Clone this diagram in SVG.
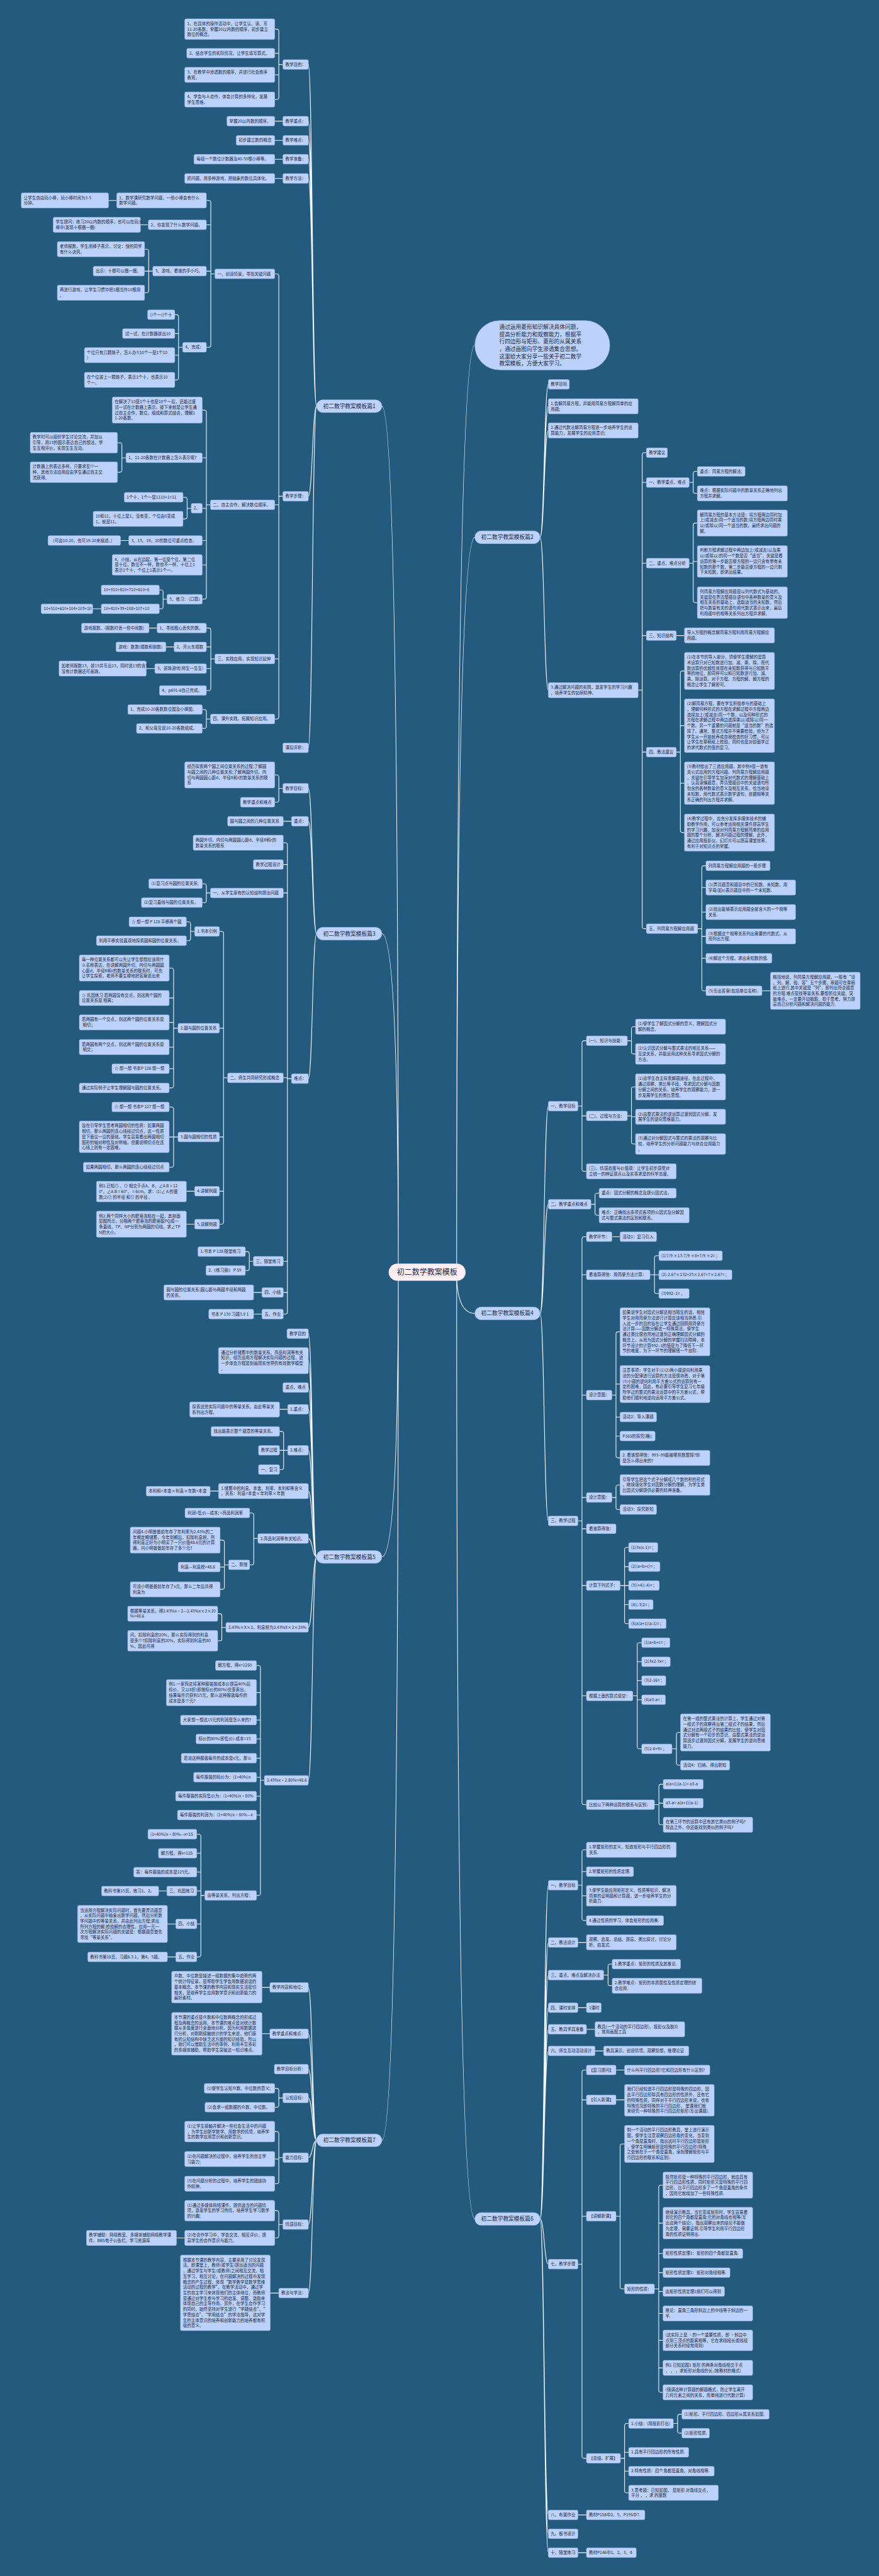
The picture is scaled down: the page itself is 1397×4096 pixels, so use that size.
<svg xmlns="http://www.w3.org/2000/svg" width="1397" height="4096" viewBox="0 0 1397 4096">
<style>
.n rect{fill:#bdd2fa;stroke:#a7bfee;stroke-width:1}
text{font-family:"Noto Sans CJK SC","Liberation Sans",sans-serif;font-size:12px;fill:#1b2845}
.p text{font-size:16px}
.ctr rect{fill:#fdeef4}
.ctr text{font-size:22px}
.c{fill:none;stroke:#f2f5fa;stroke-width:2}
</style>
<rect width="1397" height="4096" fill="#245a7e"/>
<g transform="scale(0.5457)">
<g id="connectors" class="c">
<path d="M1160 3707Q1160 1183.5 1112 1183.5M1160 3707Q1160 2720.5 1112 2720.5M1160 3707Q1160 4536.5 1112 4536.5M1160 3707Q1160 6236.5 1112 6236.5M1330 3707Q1330 1005.6 1383 1005.6M1330 3707Q1330 1565.5 1383 1565.5M1330 3707Q1330 3827 1383 3827M1330 3707Q1330 6465.5 1383 6465.5"/>
<path d="M922 1183.5C910 1183.5 910 188 898 188M922 1183.5C910 1183.5 910 353 898 353M922 1183.5C910 1183.5 910 409 898 409M922 1183.5C910 1183.5 910 464 898 464M922 1183.5C910 1183.5 910 520 898 520M922 1183.5C910 1183.5 910 1446 898 1446M922 1183.5C910 1183.5 910 2179 898 2179"/>
<path d="M922 2720.5C910 2720.5 910 2297 898 2297M922 2720.5C910 2720.5 910 2393 898 2393M922 2720.5C910 2720.5 910 3143 898 3143"/>
<path d="M922 4536.5C910 4536.5 910 3886 898 3886M922 4536.5C910 4536.5 910 3964.6 898 3964.6M922 4536.5C910 4536.5 910 4043 898 4043M922 4536.5C910 4536.5 910 4106.5 898 4106.5M922 4536.5C910 4536.5 910 4226 898 4226M922 4536.5C910 4536.5 910 4344.7 898 4344.7M922 4536.5C910 4536.5 910 4483 898 4483M922 4536.5C910 4536.5 910 4742 898 4742M922 4536.5C910 4536.5 910 5187.5 898 5187.5"/>
<path d="M922 6236.5C910 6236.5 910 5791 898 5791M922 6236.5C910 6236.5 910 5926 898 5926M922 6236.5C910 6236.5 910 6029 898 6029M922 6236.5C910 6236.5 910 6113 898 6113M922 6236.5C910 6236.5 910 6287 898 6287M922 6236.5C910 6236.5 910 6482 898 6482M922 6236.5C910 6236.5 910 6681.6 898 6681.6"/>
<path d="M1573 1565.5C1585 1565.5 1585 1120 1597 1120M1573 1565.5C1585 1565.5 1585 1184 1597 1184M1573 1565.5C1585 1565.5 1585 1254.5 1597 1254.5M1573 1565.5C1585 1565.5 1585 2011 1597 2011"/>
<path d="M1573 3827C1585 3827 1585 3223 1597 3223M1573 3827C1585 3827 1585 3509 1597 3509M1573 3827C1585 3827 1585 4431.5 1597 4431.5"/>
<path d="M1573 6465.5C1585 6465.5 1585 5493 1597 5493M1573 6465.5C1585 6465.5 1585 5660 1597 5660M1573 6465.5C1585 6465.5 1585 5755 1597 5755M1573 6465.5C1585 6465.5 1585 5850 1597 5850M1573 6465.5C1585 6465.5 1585 5913 1597 5913M1573 6465.5C1585 6465.5 1585 5976 1597 5976M1573 6465.5C1585 6465.5 1585 6597.4 1597 6597.4M1573 6465.5C1585 6465.5 1585 7328 1597 7328M1573 6465.5C1585 6465.5 1585 7383 1597 7383M1573 6465.5C1585 6465.5 1585 7438 1597 7438"/>
<path d="M824 188H812M800 85H806Q812 85 812 91V284Q812 290 806 290H800M812 155H800M812 218H800M824 353H800M824 409H800M824 464H800M824 520H800"/>
<path d="M824 1446H812M800 798H806Q812 798 812 804V2089Q812 2095 806 2095H800M812 1471H800M812 1920H800"/>
<path d="M626 798H614M601 584H608Q614 584 614 590V1006Q614 1012 608 1012H601M614 655H601M614 790H601M340 584H315.5M432 655H409M445 790H420.6M420.6 726H427Q433 726 433 732V847Q433 853 427 853H420.6M532 1012H520M508.6 917H514Q520 917 520 923V1101Q520 1107 514 1107H508.6M520 972H508.6M520 1035H508.6"/>
<path d="M613 1471H601M589 1195H595Q601 1195 601 1201V1740Q601 1746 595 1746H589M601 1334H589M601 1481H589M601 1575H589M601 1646H589M366.6 1334H355M342.5 1290H349Q355 1290 355 1296V1370Q355 1376 349 1376H342.5M557 1481H545M533 1449H539Q545 1449 545 1455V1506Q545 1512 539 1512H533M375 1575H351M486.5 1746H475M464 1719H469Q475 1719 475 1725V1768Q475 1774 469 1774H464M295 1774H270"/>
<path d="M626 1920H614M601 1830H608Q614 1830 614 1836V2006Q614 2012 608 2012H601M614 1885H601M614 1948H601M457.6 1830H434M507 1885H483M451 1948H426M613 2095H601M589 2067.5H595Q601 2067.5 601 2073.5V2116.6Q601 2122.6 595 2122.6H589"/>
<path d="M824 2297H812M800 2258H806Q812 2258 812 2264V2331.5Q812 2337.5 806 2337.5H800M849 2393H825M849 3143H837M825 2455.5H831Q837 2455.5 837 2461.5V3823Q837 3829 831 3829H825M837 2519H825M837 2602H825M837 3140.5H825M837 3675H825M837 3766H825"/>
<path d="M613 2602H601M589 2575H595Q601 2575 601 2581V2624Q601 2630 595 2630H589M663 3140.5H651M639 2714H645Q651 2714 651 2720V3561Q651 3567 645 3567H639M651 2996H639M651 3313H639M651 3471H639M567 2714H555M542.7 2686H549Q555 2686 555 2692V2735Q555 2741 549 2741H542.7"/>
<path d="M518.5 2996H505.6M492.7 2820.6H499.6Q505.6 2820.6 505.6 2826.6V3164Q505.6 3170 499.6 3170H492.7M505.6 2908H492.7M505.6 2979H492.7M505.6 3051H492.7M505.6 3114H492.7M518.5 3313H492.7M492.7 3225.6H499.6Q505.6 3225.6 505.6 3231.6V3395Q505.6 3401 499.6 3401H492.7M567 3471H542.7M567 3567H542.7M738 3675H726M714.5 3647H720Q726 3647 726 3653V3696Q726 3702 720 3702H714.5M763 3766H738.5M763 3829H738.6"/>
<path d="M838 4106.5H814M838 4226H814M814 4171H820Q826 4171 826 4177V4276Q826 4282 820 4282H814M636.5 4344.7H612M751 4483H739M727 4408.5H733Q739 4408.5 739 4414.5V4553.7Q739 4559.7 733 4559.7H727M666 4559.7H653.5M641 4487.6H647.5Q653.5 4487.6 653.5 4493.6V4625Q653.5 4631 647.5 4631H641M653.5 4566H641M658 4742H646M634 4702H640Q646 4702 646 4708V4775Q646 4781 640 4781H634"/>
<path d="M770 5187.5H758.5M747 4853H752.5Q758.5 4853 758.5 4859V5517Q758.5 5523 752.5 5523H747M758.5 4932H747M758.5 5012H747M758.5 5067H747M758.5 5123H747M758.5 5178.6H747M758.5 5233.6H747M758.5 5288.6H747M596.7 5523H585M573 5344.5H579Q585 5344.5 585 5350.5V5696Q585 5702 579 5702H573M585 5400H573M585 5455H573M585 5510H573M585 5606H573M486 5510H462M512 5606H487.5M512 5702H487.5"/>
<path d="M786 5791H763M786 5926H763M824 6113H812M800 6085H806Q812 6085 812 6091V6134Q812 6140 806 6140H800M824 6287H812M800 6211H806Q812 6211 812 6217V6357Q812 6363 806 6363H800M812 6291H800M824 6482H812M800 6441.5H806Q812 6441.5 812 6447.5V6515Q812 6521 806 6521H800M538 6521H514M812 6681.6H787"/>
<path d="M1858.5 2011H1870.5M1882.6 1319H1876.5Q1870.5 1319 1870.5 1325V2700Q1870.5 2706 1876.5 2706H1882.6M1870.5 1405.4H1882.6M1870.5 1641H1882.6M1870.5 1852H1882.6M1870.5 2191.5H1882.6M2007 1405.4H2019M2031 1373.5H2025Q2019 1373.5 2019 1379.5V1431.6Q2019 1437.6 2025 1437.6H2031M2007 1641H2019M2031 1524H2025Q2019 1524 2019 1530V1750Q2019 1756 2025 1756H2031M2019 1636H2031M1969.4 1852H1993.5"/>
<path d="M1969.4 2191.5H1981.5M1993.5 1955H1987.5Q1981.5 1955 1981.5 1961V2420Q1981.5 2426 1987.5 2426H1993.5M1981.5 2114.5H1993.5M1981.5 2282H1993.5M2032 2706H2044M2056 2522.6H2050Q2044 2522.6 2044 2528.6V2881Q2044 2887 2050 2887H2056M2044 2586H2056M2044 2657.6H2056M2044 2728.4H2056M2044 2792H2056M2219 2887H2244"/>
<path d="M1683 3223H1695M1708 3032.6H1701Q1695 3032.6 1695 3038.6V3407Q1695 3413 1701 3413H1708M1695 3251.5H1708M1827 3032.6H1839M1851 2991.5H1845Q1839 2991.5 1839 2997.5V3065Q1839 3071 1845 3071H1851M1827 3251.5H1839M1851 3167H1845Q1839 3167 1839 3173V3327.4Q1839 3333.4 1845 3333.4H1851M1839 3254H1851M1721 3509H1733M1745 3476.7H1739Q1733 3476.7 1733 3482.7V3535Q1733 3541 1739 3541H1745"/>
<path d="M1683 4431.5H1695M1708 3603.6H1701Q1695 3603.6 1695 3609.6V5252.5Q1695 5258.5 1701 5258.5H1708M1695 3714.5H1708M1695 4065H1708M1695 4363.4H1708M1695 4454.6H1708M1695 4620H1708M1695 4941.5H1708M1782 3603.6H1806M1893 3714.5H1919M1919 3659H1912Q1906 3659 1906 3665V3763Q1906 3769 1912 3769H1919"/>
<path d="M1782 4065H1794M1806 3880.6H1800Q1794 3880.6 1794 3886.6V4242Q1794 4248 1800 4248H1806M1794 4033H1806M1794 4129H1806M1794 4184.5H1806M1782 4363.4H1794M1806 4327H1800Q1794 4327 1794 4333V4392.5Q1794 4398.5 1800 4398.5H1806"/>
<path d="M1806 4620H1831M1831 4509H1825Q1819 4509 1819 4515V4725Q1819 4731 1825 4731H1831M1819 4565H1831M1819 4675.6H1831M1843 4941.5H1856M1869 4786.4H1862Q1856 4786.4 1856 4792.4V5089.8Q1856 5095.8 1862 5095.8H1869M1856 4842H1869M1856 4897H1869M1856 4952.7H1869M1957 5095.8H1970M1982 5048H1976Q1970 5048 1970 5054V5137.5Q1970 5143.5 1976 5143.5H1982M1906 5258.5H1919M1931.6 5199H1925Q1919 5199 1919 5205V5311Q1919 5317 1925 5317H1931.6M1919 5254H1931.6"/>
<path d="M1683 5493H1695M1708 5390H1701Q1695 5390 1695 5396V5590Q1695 5596 1701 5596H1708M1695 5453.6H1708M1695 5524H1708M1683 5660H1708M1758 5755H1771M1783 5723H1777Q1771 5723 1771 5729V5780Q1771 5786 1777 5786H1783M1683 5850H1708M1708 5913H1733M1733 5976H1758"/>
<path d="M1683 6597.4H1695M1708 6031.6H1701Q1695 6031.6 1695 6037.6V7157Q1695 7163 1701 7163H1708M1695 6118.6H1708M1695 6457.7H1708M1794 6031.6H1819M1794 6118.6H1819M1794 6457.7H1806M1819 6247H1812Q1806 6247 1806 6253V6663.4Q1806 6669.4 1812 6669.4H1819"/>
<path d="M1906 6669.4H1918.5M1931 6367H1924.5Q1918.5 6367 1918.5 6373V6964.8Q1918.5 6970.8 1924.5 6970.8H1931M1918.5 6477.7H1931M1918.5 6566.4H1931M1918.5 6622H1931M1918.5 6677H1931M1918.5 6740.8H1931M1918.5 6819.4H1931M1918.5 6899.6H1931M1807 7163H1819M1831 7061.6H1825Q1819 7061.6 1819 7067.6V7257.6Q1819 7263.6 1825 7263.6H1831M1819 7145.5H1831M1819 7200.5H1831M1961 7061.6H1973.5M1986 7034.8H1980Q1973.5 7034.8 1973.5 7040.8V7083.8Q1973.5 7089.8 1980 7089.8H1986M1683 7328H1708M1683 7438H1708"/>
</g>

<g id="center" class="ctr"><rect x="1132" y="3682" width="224" height="50" rx="25"/><text x="1156" y="3715">初二数学教案模板</text></g>

<g id="intro" class="n p"><rect x="1383" y="934" width="393" height="144" rx="72"/><text x="1454" y="958.6">通过运用菱形知识解决具体问题，<tspan x="1454" dy="21.4">提高分析能力和观察能力，根据平</tspan><tspan x="1454" dy="21.4">行四边形与矩形、菱形的从属关系</tspan><tspan x="1454" dy="21.4">，通过画图向学生渗透集合思想。</tspan><tspan x="1454" dy="21.4">这里给大家分享一些关于初二数学</tspan><tspan x="1454" dy="21.4">教案模板，方便大家学习。</tspan></text></g>

<g id="b1" class="n p"><rect x="922" y="1165" width="190" height="37" rx="18"/><text x="941" y="1189">初二数学教案模板篇1</text></g>
<g id="b3" class="n p"><rect x="922" y="2702" width="190" height="37" rx="18"/><text x="941" y="2726">初二数学教案模板篇3</text></g>
<g id="b5" class="n p"><rect x="922" y="4518" width="190" height="37" rx="18"/><text x="941" y="4542">初二数学教案模板篇5</text></g>
<g id="b7" class="n p"><rect x="922" y="6218" width="190" height="37" rx="18"/><text x="941" y="6242">初二数学教案模板篇7</text></g>
<g id="b2" class="n p"><rect x="1383" y="1547" width="190" height="37" rx="18"/><text x="1401" y="1571">初二数学教案模板篇2</text></g>
<g id="b4" class="n p"><rect x="1383" y="3808.5" width="190" height="37" rx="18"/><text x="1401" y="3832.5">初二数学教案模板篇4</text></g>
<g id="b6" class="n p"><rect x="1383" y="6447" width="190" height="37" rx="18"/><text x="1401" y="6471">初二数学教案模板篇6</text></g>

<!-- 篇1 -->
<g id="p1" class="n">
<g id="p1-mudi"><rect x="824" y="174" width="74" height="28" rx="4"/><text x="831" y="192">教学目的：</text></g>
<g id="p1-a1"><rect x="538" y="55" width="262" height="60" rx="4"/><text x="545" y="73">1、在具体的操作活动中，让学生认、读、写<tspan x="545" dy="16">11-20各数，掌握20以内数的顺序，初步建立</tspan><tspan x="545" dy="16">数位的概念。</tspan></text></g>
<g id="p1-a2"><rect x="544" y="141" width="256" height="28" rx="4"/><text x="551" y="159">2、结合学生的实际情况，让学生填写算式。</text></g>
<g id="p1-a3"><rect x="538" y="196" width="262" height="44" rx="4"/><text x="545" y="214">3、在教学中渗透数的顺序，并进行社会秩序<tspan x="545" dy="16">教育。</tspan></text></g>
<g id="p1-a4"><rect x="538" y="268" width="262" height="44" rx="4"/><text x="545" y="286">4、学会与人合作，体会计算的多样化，发展<tspan x="545" dy="16">学生思维。</tspan></text></g>
<g id="p1-zd"><rect x="824" y="339" width="74" height="28" rx="4"/><text x="831" y="357">教学重点：</text></g>
<g id="p1-zdc"><rect x="661" y="339" width="139" height="28" rx="4"/><text x="668" y="357">掌握20以内数的顺序。</text></g>
<g id="p1-nd"><rect x="824" y="395" width="74" height="28" rx="4"/><text x="831" y="413">教学难点：</text></g>
<g id="p1-ndc"><rect x="688" y="395" width="112" height="28" rx="4"/><text x="695" y="413">初步建立数的概念</text></g>
<g id="p1-zb"><rect x="824" y="450" width="74" height="28" rx="4"/><text x="831" y="468">教学准备：</text></g>
<g id="p1-zbc"><rect x="565" y="450" width="235" height="28" rx="4"/><text x="572" y="468">每组一个数位计数器及40-50根小棒等。</text></g>
<g id="p1-ff"><rect x="824" y="506" width="74" height="28" rx="4"/><text x="831" y="524">教学方法：</text></g>
<g id="p1-ffc"><rect x="538" y="506" width="262" height="28" rx="4"/><text x="545" y="524">抓问题，用多种游戏，把抽象的数位具体化。</text></g>
<g id="p1-bz"><rect x="824" y="1432" width="74" height="28" rx="4"/><text x="831" y="1450">教学步骤：</text></g>
<g id="p1-px"><rect x="824" y="2165" width="74" height="28" rx="4"/><text x="831" y="2183">课后评析：</text></g>
<g id="p1-s1"><rect x="626" y="784" width="174" height="28" rx="4"/><text x="633" y="802">一、创设情景，寻找关键问题</text></g>
<g id="p1-s2"><rect x="613" y="1457" width="187" height="28" rx="4"/><text x="620" y="1475">二、自主合作，解决数位顺序。</text></g>
<g id="p1-s3"><rect x="626" y="1906" width="174" height="28" rx="4"/><text x="633" y="1924">三、实践应用，实现知识延伸</text></g>
<g id="p1-s4"><rect x="613" y="2081" width="187" height="28" rx="4"/><text x="620" y="2099">四、课外实践，拓展知识应用。</text></g>
<g id="p1-b1"><rect x="340" y="562" width="261" height="44" rx="4"/><text x="347" y="580">1、数学课研究数学问题，一些小棒会有什么<tspan x="347" dy="16">数学问题。</tspan></text></g>
<g id="p1-b1c"><rect x="62" y="562" width="254" height="44" rx="4"/><text x="69" y="580">让学生自由玩小棒，玩小棒时间为3-5<tspan x="69" dy="16">分钟。</tspan></text></g>
<g id="p1-b2"><rect x="432" y="641" width="169" height="28" rx="4"/><text x="439" y="659">2、你发现了什么数学问题。</text></g>
<g id="p1-b2c"><rect x="155" y="633" width="254" height="44" rx="4"/><text x="162" y="651">学生提问：练习20以内数的顺序，也可以在玩小<tspan x="162" dy="16">棒中(发现十根捆一捆)</tspan></text></g>
<g id="p1-b3"><rect x="445" y="776" width="156" height="28" rx="4"/><text x="452" y="794">3、游戏，看谁的手小巧。</text></g>
<g id="p1-b3a"><rect x="167" y="704" width="254" height="44" rx="4"/><text x="174" y="722">老师报数，学生用棒子表示，讨论：快的同学<tspan x="174" dy="16">有什么诀窍。</tspan></text></g>
<g id="p1-b3b"><rect x="271.5" y="776" width="149" height="28" rx="4"/><text x="278.5" y="794">出示：十根可以捆一捆。</text></g>
<g id="p1-b3c"><rect x="167" y="831" width="254" height="44" rx="4"/><text x="174" y="849">再进行游戏，让学生习惯中把1捆当作10根用<tspan x="174" dy="16">。</tspan></text></g>
<g id="p1-b4"><rect x="532" y="998" width="69" height="28" rx="4"/><text x="539" y="1016">4、完成：</text></g>
<g id="p1-b4a"><rect x="430" y="903" width="79" height="28" rx="4"/><text x="437" y="921">()个一()个十</text></g>
<g id="p1-b4b"><rect x="357" y="958" width="152" height="28" rx="4"/><text x="364" y="976">试一试，在计数器拔出10</text></g>
<g id="p1-b4c"><rect x="246" y="1013" width="263" height="44" rx="4"/><text x="253" y="1031">个位只有几颗珠子，怎么办?(10个一是1个10<tspan x="253" dy="16">)</tspan></text></g>
<g id="p1-b4d"><rect x="246" y="1085" width="263" height="44" rx="4"/><text x="253" y="1103">在个位拔上一颗珠子，表示1个十，也表示10<tspan x="253" dy="16">个一。</tspan></text></g>
<g id="p1-c1"><rect x="327" y="1157" width="262" height="76" rx="4"/><text x="334" y="1175">在解决了10是1个十也是10个一后，还能过度<tspan x="334" dy="16">试一试在计数器上表示。接下来就是让学生通</tspan><tspan x="334" dy="16">过自主合作，数位，组成和算式结合，理解1</tspan><tspan x="334" dy="16">1-20各数。</tspan></text></g>
<g id="p1-c2"><rect x="367" y="1320" width="222" height="28" rx="4"/><text x="374" y="1338">1、11-20各数在计数器上怎么表示呢?</text></g>
<g id="p1-c2a"><rect x="88" y="1260" width="254" height="60" rx="4"/><text x="95" y="1278">教学时可以组织学生讨论交流，并加以<tspan x="95" dy="16">引导，用13的图示表达自己的想法，学</tspan><tspan x="95" dy="16">生互相评价，实现生生互动。</tspan></text></g>
<g id="p1-c2b"><rect x="88" y="1346" width="254" height="60" rx="4"/><text x="95" y="1364">计数器上的表达多样，只要求至少一<tspan x="95" dy="16">种，其他方法应用应由学生通过自主交</tspan><tspan x="95" dy="16">流获得。</tspan></text></g>
<g id="p1-c3"><rect x="557" y="1467" width="32" height="28" rx="4"/><text x="564" y="1485">2、</text></g>
<g id="p1-c3a"><rect x="362" y="1435" width="171" height="28" rx="4"/><text x="369" y="1453">1个十，1个一是1110+1=11</text></g>
<g id="p1-c3b"><rect x="271.5" y="1490" width="261.5" height="44" rx="4"/><text x="278.5" y="1508">10和11，十位上是1，没有变，个位由0变成<tspan x="278.5" dy="16">1，就是11。</tspan></text></g>
<g id="p1-c4"><rect x="375" y="1561" width="214" height="28" rx="4"/><text x="382" y="1579">3、15、19、20的数位可重点检查。</text></g>
<g id="p1-c4a"><rect x="140" y="1561" width="211" height="28" rx="4"/><text x="147" y="1579">（可由10-20，也可19-20来描述。）</text></g>
<g id="p1-c5"><rect x="327" y="1616" width="262" height="60" rx="4"/><text x="334" y="1634">4、小结，从右边起，第一位是个位，第二位<tspan x="334" dy="16">是十位，数位不一样，数也不一样，十位上1</tspan><tspan x="334" dy="16">表示1个十，个位上1表示1个一。</tspan></text></g>
<g id="p1-c6"><rect x="486.5" y="1732" width="102.5" height="28" rx="4"/><text x="493.5" y="1750">5、练习：（口算）</text></g>
<g id="p1-c6a"><rect x="295" y="1705" width="169" height="28" rx="4"/><text x="302" y="1723">10+910+810+710+610+5</text></g>
<g id="p1-c6b"><rect x="295" y="1760" width="169" height="28" rx="4"/><text x="302" y="1778">10+410+39+108+107+10</text></g>
<g id="p1-c6c"><rect x="120" y="1760" width="150" height="28" rx="4"/><text x="127" y="1778">10+510+610+104+103+10</text></g>
<g id="p1-d1"><rect x="457.6" y="1816" width="143.4" height="28" rx="4"/><text x="464.6" y="1834">1、寻找粗心丢失的数。</text></g>
<g id="p1-d1a"><rect x="237.5" y="1816" width="196.5" height="28" rx="4"/><text x="244.5" y="1834">游戏报数。(报数时丢一些中间数)</text></g>
<g id="p1-d2"><rect x="507" y="1871" width="94" height="28" rx="4"/><text x="514" y="1889">2、开火车顺数</text></g>
<g id="p1-d2a"><rect x="338" y="1871" width="145" height="28" rx="4"/><text x="345" y="1889">游戏：数数(顺数和倒数)</text></g>
<g id="p1-d3"><rect x="451" y="1934" width="150" height="28" rx="4"/><text x="458" y="1952">3、拔珠游戏(师生一生生)</text></g>
<g id="p1-d3a"><rect x="172" y="1926" width="254" height="44" rx="4"/><text x="179" y="1944">如老师报数13，拔13并写出13，同时说13的含义，<tspan x="179" dy="16">没有计数器还可画珠。</tspan></text></g>
<g id="p1-d4"><rect x="464.6" y="1998" width="136.4" height="28" rx="4"/><text x="471.6" y="2016">4、p691-6自己完成。</text></g>
<g id="p1-e1"><rect x="372.5" y="2053.5" width="216.5" height="28" rx="4"/><text x="379.5" y="2071.5">1、完成10-20各数数位图及小棒图。</text></g>
<g id="p1-e2"><rect x="397.7" y="2108.6" width="191.3" height="28" rx="4"/><text x="404.7" y="2126.6">2、和父母互说10-20各数组成。</text></g>
</g>

<!-- 篇3 -->
<g id="p3" class="n">
<g id="p3-mb"><rect x="824" y="2283" width="74" height="28" rx="4"/><text x="831" y="2301">教学目标：</text></g>
<g id="p3-mbc"><rect x="538" y="2220" width="262" height="76" rx="4"/><text x="545" y="2238">经历探索两个圆之间位置关系的过程;了解圆<tspan x="545" dy="16">与圆之间的几种位置关系;了解两圆外切、内</tspan><tspan x="545" dy="16">切与两圆圆心距d、半径R和r的数量关系的联</tspan><tspan x="545" dy="16">系</tspan></text></g>
<g id="p3-zn"><rect x="700.5" y="2323.5" width="99.5" height="28" rx="4"/><text x="707.5" y="2341.5">教学重点和难点</text></g>
<g id="p3-zd"><rect x="849" y="2379" width="49" height="28" rx="4"/><text x="856" y="2397">重点：</text></g>
<g id="p3-zdc"><rect x="663" y="2379" width="162" height="28" rx="4"/><text x="670" y="2397">圆与圆之间的几种位置关系</text></g>
<g id="p3-nd"><rect x="849" y="3129" width="49" height="28" rx="4"/><text x="856" y="3147">难点：</text></g>
<g id="p3-nd1"><rect x="562.6" y="2433.5" width="262.4" height="44" rx="4"/><text x="569.6" y="2451.5">两圆外切、内切与两圆圆心距d、半径R和r的<tspan x="569.6" dy="16">数量关系的联系</tspan></text></g>
<g id="p3-nd2"><rect x="738" y="2505" width="87" height="28" rx="4"/><text x="745" y="2523">教学过程设计</text></g>
<g id="p3-y1"><rect x="613" y="2588" width="212" height="28" rx="4"/><text x="620" y="2606">一、从学生原有的认知结构提出问题</text></g>
<g id="p3-y1a"><rect x="433.5" y="2561" width="155.5" height="28" rx="4"/><text x="440.5" y="2579">(1)复习点与圆的位置关系;</text></g>
<g id="p3-y1b"><rect x="412" y="2616" width="177" height="28" rx="4"/><text x="419" y="2634">(2)复习直线与圆的位置关系。</text></g>
<g id="p3-y2"><rect x="663" y="3126.5" width="162" height="28" rx="4"/><text x="670" y="3144.5">二、师生共同研究形成概念</text></g>
<g id="p3-k1"><rect x="567" y="2700" width="72" height="28" rx="4"/><text x="574" y="2718">1.书本引例</text></g>
<g id="p3-k1a"><rect x="376" y="2672" width="166.7" height="28" rx="4"/><text x="383" y="2690">☆ 想一想 P 125 平移两个圆</text></g>
<g id="p3-k1b"><rect x="281" y="2727" width="261.7" height="28" rx="4"/><text x="288" y="2745">利用平移实验直观地探索圆和圆的位置关系。</text></g>
<g id="p3-k2"><rect x="518.5" y="2982" width="120.5" height="28" rx="4"/><text x="525.5" y="3000">2.圆与圆的位置关系</text></g>
<g id="p3-k2a"><rect x="231" y="2782.6" width="261.7" height="76" rx="4"/><text x="238" y="2800.6">每一种位置关系都可以先让学生想想应该用什<tspan x="238" dy="16">么名称表达。在讲解两圆外切、内切与两圆圆</tspan><tspan x="238" dy="16">心距d、半径R和r的数量关系的联系时，可先</tspan><tspan x="238" dy="16">让学生探索，老师不要生硬地把答案说出来</tspan></text></g>
<g id="p3-k2b"><rect x="231" y="2886" width="261.7" height="44" rx="4"/><text x="238" y="2904">☆ 巩固练习 若两圆没有交点，则这两个圆的<tspan x="238" dy="16">位置关系是 相离；</tspan></text></g>
<g id="p3-k2c"><rect x="231" y="2957" width="261.7" height="44" rx="4"/><text x="238" y="2975">若两圆有一个交点，则这两个圆的位置关系是<tspan x="238" dy="16"> 相切；</tspan></text></g>
<g id="p3-k2d"><rect x="231" y="3029" width="261.7" height="44" rx="4"/><text x="238" y="3047">若两圆有两个交点，则这两个圆的位置关系是<tspan x="238" dy="16"> 相交；</tspan></text></g>
<g id="p3-k2e"><rect x="326" y="3100" width="166.7" height="28" rx="4"/><text x="333" y="3118">☆ 想一想 书本P 126 想一想</text></g>
<g id="p3-k2f"><rect x="231" y="3156" width="261.7" height="28" rx="4"/><text x="238" y="3174">通过实际例子让学生理解圆与圆的位置关系。</text></g>
<g id="p3-k3"><rect x="518.5" y="3299" width="120.5" height="28" rx="4"/><text x="525.5" y="3317">3.圆与圆相切的性质</text></g>
<g id="p3-k3a"><rect x="326" y="3211.6" width="166.7" height="28" rx="4"/><text x="333" y="3229.6">☆ 想一想 书本P 127 想一想</text></g>
<g id="p3-k3b"><rect x="231" y="3266.6" width="261.7" height="92" rx="4"/><text x="238" y="3284.6">旨在引导学生思考两圆相切的性质：如果两圆<tspan x="238" dy="16">相切，那么两圆的连心线经过切点，这一性质</tspan><tspan x="238" dy="16">是下面议一议的基础。学生容易看出两圆相切</tspan><tspan x="238" dy="16">图形的轴对称性及对称轴，但要说明切点在连</tspan><tspan x="238" dy="16">心线上则有一定困难。</tspan></text></g>
<g id="p3-k3c"><rect x="243" y="3387" width="249.7" height="28" rx="4"/><text x="250" y="3405">如果两圆相切，那么两圆的连心线经过切点</text></g>
<g id="p3-k4"><rect x="567" y="3457" width="72" height="28" rx="4"/><text x="574" y="3475">4.讲解例题</text></g>
<g id="p3-k4a"><rect x="281" y="3442" width="261.7" height="60" rx="4"/><text x="288" y="3460">例1.已知⊙ 、⊙ 相交于点A、B，∠A B = 12<tspan x="288" dy="16">0°，∠A B = 60°，  = 6cm。求：(1)∠ A 的度</tspan><tspan x="288" dy="16">数;2)⊙ 的半径 和⊙ 的半径 。</tspan></text></g>
<g id="p3-k5"><rect x="567" y="3553" width="72" height="28" rx="4"/><text x="574" y="3571">5.讲解例题</text></g>
<g id="p3-k5a"><rect x="281" y="3529" width="261.7" height="76" rx="4"/><text x="288" y="3547">例2.两个同样大小的肥皂泡粘在一起，其剖面<tspan x="288" dy="16">如图所示，分隔两个肥皂泡的肥皂膜PQ成一</tspan><tspan x="288" dy="16">条直线，TP、NP分别为两圆的切线，求∠TP</tspan><tspan x="288" dy="16">N的大小。</tspan></text></g>
<g id="p3-y3"><rect x="738" y="3661" width="87" height="28" rx="4"/><text x="745" y="3679">三、随堂练习</text></g>
<g id="p3-y3a"><rect x="576.6" y="3633" width="138" height="28" rx="4"/><text x="583.6" y="3651">1.书本 P 128 随堂练习</text></g>
<g id="p3-y3b"><rect x="600" y="3688" width="114.5" height="28" rx="4"/><text x="607" y="3706">2.《练习册》 P 59</text></g>
<g id="p3-y4"><rect x="763" y="3752" width="62" height="28" rx="4"/><text x="770" y="3770">四、小结</text></g>
<g id="p3-y4a"><rect x="477.5" y="3744" width="261" height="44" rx="4"/><text x="484.5" y="3762">圆与圆的位置关系;圆心距与两圆半径和两圆<tspan x="484.5" dy="16">的关系。</tspan></text></g>
<g id="p3-y5"><rect x="763" y="3815" width="62" height="28" rx="4"/><text x="770" y="3833">五、作业</text></g>
<g id="p3-y5a"><rect x="608" y="3815" width="130.6" height="28" rx="4"/><text x="615" y="3833">书本 P 130 习题3.9 1</text></g>
</g>

<!-- 篇5 -->
<g id="p5" class="n">
<g id="p5-md"><rect x="836" y="3872" width="62" height="28" rx="4"/><text x="843" y="3890">教学目的</text></g>
<g id="p5-mdc"><rect x="636.5" y="3926.6" width="261.5" height="76" rx="4"/><text x="643.5" y="3944.6">通过分析储蓄中的数量关系、商品利润等有关<tspan x="643.5" dy="16">知识，经历运用方程解决实际问题的过程，进</tspan><tspan x="643.5" dy="16">一步体会方程是刻画现实世界的有效数学模型</tspan><tspan x="643.5" dy="16">。</tspan></text></g>
<g id="p5-zn"><rect x="824" y="4029" width="74" height="28" rx="4"/><text x="831" y="4047">重点、难点</text></g>
<g id="p5-zd"><rect x="838" y="4092.5" width="60" height="28" rx="4"/><text x="845" y="4110.5">1.重点：</text></g>
<g id="p5-zdc"><rect x="552.6" y="4085" width="261.4" height="44" rx="4"/><text x="559.6" y="4103">探索这些实际问题中的等量关系，由此等量关<tspan x="559.6" dy="16">系列出方程。</tspan></text></g>
<g id="p5-nd"><rect x="838" y="4212" width="60" height="28" rx="4"/><text x="845" y="4230">2.难点：</text></g>
<g id="p5-nda"><rect x="615" y="4157" width="199" height="28" rx="4"/><text x="622" y="4175">找出能表示整个题意的等量关系。</text></g>
<g id="p5-ndb"><rect x="753" y="4212" width="61" height="28" rx="4"/><text x="760" y="4230">教学过程</text></g>
<g id="p5-ndc"><rect x="753" y="4268" width="61" height="28" rx="4"/><text x="760" y="4286">一、复习</text></g>
<g id="p5-cx"><rect x="636.5" y="4322.7" width="261.5" height="44" rx="4"/><text x="643.5" y="4340.7">1.储蓄中的利息、本金、利率、本利和等含义<tspan x="643.5" dy="16">，关系：利息=本金×年利率×年数</tspan></text></g>
<g id="p5-cxa"><rect x="426" y="4331" width="186" height="28" rx="4"/><text x="433" y="4349">本利和=本金×利息×年数+本金</text></g>
<g id="p5-sp"><rect x="751" y="4469" width="147" height="28" rx="4"/><text x="758" y="4487">2.商品利润等有关知识。</text></g>
<g id="p5-spa"><rect x="539" y="4394.5" width="188" height="28" rx="4"/><text x="546" y="4412.5">利润=售价—成本; =商品利润率</text></g>
<g id="p5-xs"><rect x="666" y="4545.7" width="61" height="28" rx="4"/><text x="673" y="4563.7">二、新授</text></g>
<g id="p5-xsa"><rect x="379.5" y="4449.6" width="261.5" height="76" rx="4"/><text x="386.5" y="4467.6">问题4.小明爸爸前年存了年利率为2.43%的二<tspan x="386.5" dy="16">年期定期储蓄，今年到期后，扣除利息税，所</tspan><tspan x="386.5" dy="16">得利息正好为小明买了一只价值48.6元的计算</tspan><tspan x="386.5" dy="16">器，问小明爸爸前年存了多少元?</tspan></text></g>
<g id="p5-xsb"><rect x="519" y="4552" width="122" height="28" rx="4"/><text x="526" y="4570">利息—利息税=48.6</text></g>
<g id="p5-xsc"><rect x="379.5" y="4609" width="261.5" height="44" rx="4"/><text x="386.5" y="4627">可设小明爸爸前年存了x元，那么二年后共得<tspan x="386.5" dy="16">利息为</tspan></text></g>
<g id="p5-lx"><rect x="658" y="4728" width="240" height="28" rx="4"/><text x="665" y="4746">2.43%×X×2，利息税为2.43%X×2×20%</text></g>
<g id="p5-lxa"><rect x="372" y="4680" width="262" height="44" rx="4"/><text x="379" y="4698">根据等量关系，得2.43%x·2—2.43%x×2×20<tspan x="379" dy="16">%=48.6</tspan></text></g>
<g id="p5-lxb"><rect x="372" y="4751" width="262" height="60" rx="4"/><text x="379" y="4769">问，扣除利息的20%，那么实际得到的利息<tspan x="379" dy="16">是多少?扣除利息的20%，实际得到利息的80</tspan><tspan x="379" dy="16">%，因此可得</tspan></text></g>
<g id="p5-eq"><rect x="770" y="5173.5" width="128" height="28" rx="4"/><text x="777" y="5191.5">2.43%x·2.80%=48.6</text></g>
<g id="p5-e1"><rect x="627.7" y="4839" width="119.3" height="28" rx="4"/><text x="634.7" y="4857">解方程，得x=1250</text></g>
<g id="p5-e2"><rect x="484.6" y="4894" width="262.4" height="76" rx="4"/><text x="491.6" y="4912">例1.一家商店将某种服装按成本价提高40%后<tspan x="491.6" dy="16">标价，又以8折(即按标价的80%)优惠卖出，</tspan><tspan x="491.6" dy="16">结果每件仍获利15元，那么这种服装每件的</tspan><tspan x="491.6" dy="16">成本是多少元?</tspan></text></g>
<g id="p5-e3"><rect x="526" y="4998" width="221" height="28" rx="4"/><text x="533" y="5016">大家想一想这15元的利润是怎么来的?</text></g>
<g id="p5-e4"><rect x="571" y="5053" width="176" height="28" rx="4"/><text x="578" y="5071">标价的80%(即售价)-成本=15</text></g>
<g id="p5-e5"><rect x="528" y="5109" width="219" height="28" rx="4"/><text x="535" y="5127">若设这种服装每件的成本是x元，那么</text></g>
<g id="p5-e6"><rect x="564" y="5164.6" width="183" height="28" rx="4"/><text x="571" y="5182.6">每件服装的标价为：(1+40%)x</text></g>
<g id="p5-e7"><rect x="511.6" y="5219.6" width="235.4" height="28" rx="4"/><text x="518.6" y="5237.6">每件服装的实际售价为：(1+40%)x·80%</text></g>
<g id="p5-e8"><rect x="517" y="5274.6" width="230" height="28" rx="4"/><text x="524" y="5292.6">每件服装的利润为：(1+40%)x·80%—x</text></g>
<g id="p5-e9"><rect x="596.7" y="5509" width="150.3" height="28" rx="4"/><text x="603.7" y="5527">由等量关系，列出方程：</text></g>
<g id="p5-f1"><rect x="431" y="5330.5" width="142" height="28" rx="4"/><text x="438" y="5348.5">(1+40%)x·80%—x=15</text></g>
<g id="p5-f2"><rect x="461.7" y="5386" width="111.3" height="28" rx="4"/><text x="468.7" y="5404">解方程，得x=125</text></g>
<g id="p5-f3"><rect x="389.5" y="5441" width="183.5" height="28" rx="4"/><text x="396.5" y="5459">答：每件服装的成本是125元。</text></g>
<g id="p5-f4"><rect x="486" y="5496" width="87" height="28" rx="4"/><text x="493" y="5514">三、巩固练习</text></g>
<g id="p5-f4a"><rect x="296" y="5496" width="166" height="28" rx="4"/><text x="303" y="5514">教科书第15页，练习1、2。</text></g>
<g id="p5-f5"><rect x="512" y="5592" width="61" height="28" rx="4"/><text x="519" y="5610">四、小结</text></g>
<g id="p5-f5a"><rect x="226" y="5552" width="261.5" height="108" rx="4"/><text x="233" y="5570">当运用方程解决实际问题时，首先要弄清题意<tspan x="233" dy="16">，从实际问题中抽象出数学问题，然后分析数</tspan><tspan x="233" dy="16">学问题中的等量关系，并由此列出方程;求出</tspan><tspan x="233" dy="16">所列方程的解;检验解的合理性。应用一元一</tspan><tspan x="233" dy="16">次方程解决实际问题的关键是：根据题意首先</tspan><tspan x="233" dy="16">寻找“等量关系”。</tspan></text></g>
<g id="p5-f6"><rect x="512" y="5688" width="61" height="28" rx="4"/><text x="519" y="5706">五、作业</text></g>
<g id="p5-f6a"><rect x="255.7" y="5688" width="231.8" height="28" rx="4"/><text x="262.7" y="5706">教科书第16页，习题6.3.1，第4、5题。</text></g>
</g>

<!-- 篇7 -->
<g id="p7" class="n">
<g id="p7-nr"><rect x="786" y="5777" width="112" height="28" rx="4"/><text x="793" y="5795">教学内容和地位：</text></g>
<g id="p7-nrc"><rect x="500" y="5744" width="263" height="92" rx="4"/><text x="507" y="5762">众数、中位数是描述一组数据的集中趋势的两<tspan x="507" dy="16">个统计特征量，是帮助学生学会用数据说话的</tspan><tspan x="507" dy="16">基本概念。本节课的教学内容和现实生活密切</tspan><tspan x="507" dy="16">相关，是培养学生应用数学意识和创新能力的</tspan><tspan x="507" dy="16">最好素材。</tspan></text></g>
<g id="p7-zn"><rect x="786" y="5912" width="112" height="28" rx="4"/><text x="793" y="5930">教学重点和难点：</text></g>
<g id="p7-znc"><rect x="500" y="5864" width="263" height="124" rx="4"/><text x="507" y="5882">本节课的重点是众数和中位数两概念的形成过<tspan x="507" dy="16">程及两概念的运用。本节课的难点是对统计数</tspan><tspan x="507" dy="16">据从多角度进行全面地分析。因为利用数据进</tspan><tspan x="507" dy="16">行分析，对刚刚接触统计的学生来说，他们原</tspan><tspan x="507" dy="16">有的认知结构中缺乏这方面的知识经验，所以</tspan><tspan x="507" dy="16">，我们可以借助生活中的事例，利用丰富多彩</tspan><tspan x="507" dy="16">的多媒体辅助，帮助学生突破这一知识难点。</tspan></text></g>
<g id="p7-fx"><rect x="799" y="6015" width="99" height="28" rx="4"/><text x="806" y="6033">教学目标分析：</text></g>
<g id="p7-rz"><rect x="824" y="6099" width="74" height="28" rx="4"/><text x="831" y="6117">认知目标：</text></g>
<g id="p7-rza"><rect x="595" y="6071" width="205" height="28" rx="4"/><text x="602" y="6089">(1)使学生认知众数、中位数的意义;</text></g>
<g id="p7-rzb"><rect x="597" y="6126" width="203" height="28" rx="4"/><text x="604" y="6144">(2)会求一组数据的众数、中位数。</text></g>
<g id="p7-nl"><rect x="824" y="6273" width="74" height="28" rx="4"/><text x="831" y="6291">能力目标：</text></g>
<g id="p7-nla"><rect x="538" y="6181" width="262" height="60" rx="4"/><text x="545" y="6199">(1)让学生接触并解决一些社会生活中的问题<tspan x="545" dy="16">，为学生创新学数学、用数学的情境，培养学</tspan><tspan x="545" dy="16">生的数学应用意识和创新意识。</tspan></text></g>
<g id="p7-nlb"><rect x="538" y="6269" width="262" height="44" rx="4"/><text x="545" y="6287">(2)在问题解决的过程中，培养学生的自主学<tspan x="545" dy="16">习能力;</tspan></text></g>
<g id="p7-nlc"><rect x="538" y="6341" width="262" height="44" rx="4"/><text x="545" y="6359">(3)在问题分析的过程中，培养学生的团结协<tspan x="545" dy="16">作精神。</tspan></text></g>
<g id="p7-qg"><rect x="824" y="6468" width="74" height="28" rx="4"/><text x="831" y="6486">情感目标：</text></g>
<g id="p7-qga"><rect x="538" y="6411.5" width="262" height="60" rx="4"/><text x="545" y="6429.5">(1)通过多媒体网络课件，提供适当的问题情<tspan x="545" dy="16">境，激发学生的学习热情，培养学生学习数学</tspan><tspan x="545" dy="16">的兴趣;</tspan></text></g>
<g id="p7-qgb"><rect x="538" y="6499" width="262" height="44" rx="4"/><text x="545" y="6517">(2)在合作学习中，学会交流，相互评价，提<tspan x="545" dy="16">高学生的合作意识与能力。</tspan></text></g>
<g id="p7-fz"><rect x="252" y="6499" width="262" height="44" rx="4"/><text x="259" y="6517">教学辅助：网络教室、多媒体辅助网络教学课<tspan x="259" dy="16">件、BBS电子公告栏、学习资源库</tspan></text></g>
<g id="p7-jf"><rect x="812" y="6667.6" width="86" height="28" rx="4"/><text x="819" y="6685.6">教法与学法：</text></g>
<g id="p7-jfc"><rect x="525.6" y="6571" width="261.4" height="220" rx="4"/><text x="532.6" y="6589">根据本节课的教学内容，主要采用了讨论发现<tspan x="532.6" dy="16">法。即课堂上，教师(或学生)提出适当的问题</tspan><tspan x="532.6" dy="16">，通过学生与学生(或教师)之间相互交流，相</tspan><tspan x="532.6" dy="16">互学习，相互讨论，在问题解决的过程中发现</tspan><tspan x="532.6" dy="16">概念的产生过程，体现“数学教学是数学思维</tspan><tspan x="532.6" dy="16">活动的过程的教学”。在教学活动中，通过学</tspan><tspan x="532.6" dy="16">生的自主学习来体现他们的主体地位，而教师</tspan><tspan x="532.6" dy="16">是通过对学生参与学习的启发、调整、激励来</tspan><tspan x="532.6" dy="16">体现自己的主导作用。另外，在学生合作学习</tspan><tspan x="532.6" dy="16">的同时，始终坚持对学生进行“学疑结合”、“</tspan><tspan x="532.6" dy="16">学思结合”、“学用结合”的学法指导，这对学</tspan><tspan x="532.6" dy="16">生的主体意识的培养和创新能力的培养都有积</tspan><tspan x="532.6" dy="16">极的意义。</tspan></text></g>
</g>

<!-- 篇2 -->
<g id="p2" class="n">
<g id="p2-mb"><rect x="1597" y="1106" width="61" height="28" rx="4"/><text x="1604" y="1124">教学目标</text></g>
<g id="p2-m1"><rect x="1597" y="1162" width="261.5" height="44" rx="4"/><text x="1604" y="1180">1.会解简易方程，并能用简易方程解简单的应<tspan x="1604" dy="16">用题;</tspan></text></g>
<g id="p2-m2"><rect x="1597" y="1232.5" width="261.5" height="44" rx="4"/><text x="1604" y="1250.5">2.通过代数法解简易方程进一步培养学生的运<tspan x="1604" dy="16">算能力，发展学生的应用意识;</tspan></text></g>
<g id="p2-m3"><rect x="1597" y="1989" width="261.5" height="44" rx="4"/><text x="1604" y="2007">3.通过解决问题的实践，激发学生的学习兴趣<tspan x="1604" dy="16">，培养学生的钻研精神。</tspan></text></g>
<g id="p2-jy"><rect x="1882.6" y="1305" width="61" height="28" rx="4"/><text x="1889.6" y="1323">教学建议</text></g>
<g id="p2-k1"><rect x="1882.6" y="1392" width="124.4" height="28" rx="4"/><text x="1889.6" y="1410">一、教学重点、难点</text></g>
<g id="p2-k1a"><rect x="2031" y="1359.5" width="139" height="28" rx="4"/><text x="2038" y="1377.5">重点：简易方程的解法;</text></g>
<g id="p2-k1b"><rect x="2031" y="1415.6" width="262" height="44" rx="4"/><text x="2038" y="1433.6">难点：根据实际问题中的数量关系正确地列出<tspan x="2038" dy="16">方程并求解。</tspan></text></g>
<g id="p2-k2"><rect x="1882.6" y="1627" width="124.4" height="28" rx="4"/><text x="1889.6" y="1645">二、重点、难点分析</text></g>
<g id="p2-k2a"><rect x="2031" y="1486" width="262" height="76" rx="4"/><text x="2038" y="1504">解简易方程的基本方法是：将方程两边同时加<tspan x="2038" dy="16">上(或减去)同一个适当的数;将方程两边同时乘</tspan><tspan x="2038" dy="16">以(或除以)同一个适当的数。最终求出问题的</tspan><tspan x="2038" dy="16">解。</tspan></text></g>
<g id="p2-k2b"><rect x="2031" y="1590" width="262" height="92" rx="4"/><text x="2038" y="1608">判断方程求解过程中两边加上(或减去)以及乘<tspan x="2038" dy="16">以(或除以)的同一个数是否“适当”，关键是看</tspan><tspan x="2038" dy="16">运算的第一步能否使方程的一边只含有带有未</tspan><tspan x="2038" dy="16">知数的那个数，第二步能否使方程的一边只剩</tspan><tspan x="2038" dy="16">下未知数，即求出结果。</tspan></text></g>
<g id="p2-k2c"><rect x="2031" y="1710" width="262" height="92" rx="4"/><text x="2038" y="1728">列简易方程解应用题是以列代数式为基础的，<tspan x="2038" dy="16">关键是在弄清楚题目语句中各种数量的意义及</tspan><tspan x="2038" dy="16">相互关系的基础上，选取适当的未知数，然后</tspan><tspan x="2038" dy="16">把与数量有关的语句用代数式表示出来，最后</tspan><tspan x="2038" dy="16">利用题中的相等关系列出方程并求解。</tspan></text></g>
<g id="p2-k3"><rect x="1882.6" y="1838" width="87" height="28" rx="4"/><text x="1889.6" y="1856">三、知识结构</text></g>
<g id="p2-k3a"><rect x="1993.5" y="1829.5" width="262" height="44" rx="4"/><text x="2000.5" y="1847.5">导入方程的概念解简易方程利用简易方程解应<tspan x="2000.5" dy="16">用题。</tspan></text></g>
<g id="p2-k4"><rect x="1882.6" y="2177.5" width="87" height="28" rx="4"/><text x="1889.6" y="2195.5">四、教法建议</text></g>
<g id="p2-k4a"><rect x="1993.5" y="1901" width="262" height="108" rx="4"/><text x="2000.5" y="1919">(1)在本节的导入部分，须使学生理解的是算<tspan x="2000.5" dy="16">术运算只对已知数进行加、减、乘、除，而代</tspan><tspan x="2000.5" dy="16">数运算的优越性体现在未知数获得与已知数平</tspan><tspan x="2000.5" dy="16">等的地位，即同样可以和已知数进行加、减、</tspan><tspan x="2000.5" dy="16">乘、除运算。对于方程、方程的解、解方程的</tspan><tspan x="2000.5" dy="16">概念让学生了解即可。</tspan></text></g>
<g id="p2-k4b"><rect x="1993.5" y="2036.5" width="262" height="156" rx="4"/><text x="2000.5" y="2054.5">(2)解简易方程，要在学生积极参与的基础上<tspan x="2000.5" dy="16">，理解何种形式的方程在求解过程中方程两边</tspan><tspan x="2000.5" dy="16">选择加上(或减去)同一个数，以及何种形式的</tspan><tspan x="2000.5" dy="16">方程在求解过程中两边选择乘以(或除以)同一</tspan><tspan x="2000.5" dy="16">个数。另一个重要的问题就是“适当的数”的选</tspan><tspan x="2000.5" dy="16">择了。通常，整式方程并不需要检验，但为了</tspan><tspan x="2000.5" dy="16">学生从一开始就养成自我检查的好习惯，可以</tspan><tspan x="2000.5" dy="16">让学生在草稿纸上检验，同时也是对前面学过</tspan><tspan x="2000.5" dy="16">的求代数式的值的复习。</tspan></text></g>
<g id="p2-k4c"><rect x="1993.5" y="2220" width="262" height="124" rx="4"/><text x="2000.5" y="2238">(3)教材给出了三道应用题，其中例4是一道有<tspan x="2000.5" dy="16">关公式应用的方程问题。列简易方程解应用题</tspan><tspan x="2000.5" dy="16">，关键在引导学生加深对代数式的理解基础上</tspan><tspan x="2000.5" dy="16">，认真读懂题意，弄清楚题目中的关键语句所</tspan><tspan x="2000.5" dy="16">包含的各种数量的意义及相互关系。恰当地设</tspan><tspan x="2000.5" dy="16">未知数，用代数式表示数学语句，依据相等关</tspan><tspan x="2000.5" dy="16">系正确的列出方程并求解。</tspan></text></g>
<g id="p2-k4d"><rect x="1993.5" y="2372" width="262" height="108" rx="4"/><text x="2000.5" y="2390">(4)教学过程中，应充分发挥多媒体技术的辅<tspan x="2000.5" dy="16">助教学作用，可以参考运用相关课件提高学生</tspan><tspan x="2000.5" dy="16">的学习兴趣，加深对列简易方程解简单的应用</tspan><tspan x="2000.5" dy="16">题的整个分析、解决问题过程的理解。此外，</tspan><tspan x="2000.5" dy="16">通过应用投影仪、幻灯片可以提高课堂效率，</tspan><tspan x="2000.5" dy="16">有利于对知识点的掌握。</tspan></text></g>
<g id="p2-k5"><rect x="1882.6" y="2692" width="149.4" height="28" rx="4"/><text x="1889.6" y="2710">五、列简易方程解应用题</text></g>
<g id="p2-k5a"><rect x="2056" y="2508.6" width="186.6" height="28" rx="4"/><text x="2063" y="2526.6">列简易方程解应用题的一般步骤</text></g>
<g id="p2-k5b"><rect x="2056" y="2564" width="261" height="44" rx="4"/><text x="2063" y="2582">(1)弄清题意和题目中的已知数、未知数，用<tspan x="2063" dy="16">字母(如x)表示题目中的一个未知数.</tspan></text></g>
<g id="p2-k5c"><rect x="2056" y="2635.6" width="261" height="44" rx="4"/><text x="2063" y="2653.6">(2)找出能够表示应用题全部含义的一个相等<tspan x="2063" dy="16">关系.</tspan></text></g>
<g id="p2-k5d"><rect x="2056" y="2706.4" width="261" height="44" rx="4"/><text x="2063" y="2724.4">(3)根据这个相等关系列出需要的代数式，从<tspan x="2063" dy="16">而列出方程.</tspan></text></g>
<g id="p2-k5e"><rect x="2056" y="2778" width="192" height="28" rx="4"/><text x="2063" y="2796">(4)解这个方程，求出未知数的值.</text></g>
<g id="p2-k5f"><rect x="2056" y="2873" width="163" height="28" rx="4"/><text x="2063" y="2891">(5)写出答案(包括单位名称).</text></g>
<g id="p2-k5g"><rect x="2244" y="2833" width="261" height="108" rx="4"/><text x="2251" y="2851">概括地说，列简易方程解应用题，一般有“设<tspan x="2251" dy="16">、列、解、验、答”五个步骤，审题可在草稿</tspan><tspan x="2251" dy="16">纸上进行.其中关键是“列”，即列出符合题意</tspan><tspan x="2251" dy="16">的方程.难点是找等量关系.要想抓住关键、突</tspan><tspan x="2251" dy="16">破难点，一定要开动脑筋，勤于思考、努力提</tspan><tspan x="2251" dy="16">高自己分析问题和解决问题的能力.</tspan></text></g>
</g>

<!-- 篇4 -->
<g id="p4" class="n">
<g id="p4-m"><rect x="1597" y="3209" width="86" height="28" rx="4"/><text x="1604" y="3227">一、教学目标</text></g>
<g id="p4-m1"><rect x="1708" y="3018.6" width="119" height="28" rx="4"/><text x="1715" y="3036.6">(一)、知识与技能：</text></g>
<g id="p4-m1a"><rect x="1851" y="2969.5" width="262" height="44" rx="4"/><text x="1858" y="2987.5">(1)使学生了解因式分解的意义，理解因式分<tspan x="1858" dy="16">解的概念。</tspan></text></g>
<g id="p4-m1b"><rect x="1851" y="3041" width="262" height="60" rx="4"/><text x="1858" y="3059">(2)认识因式分解与整式乘法的相互关系——<tspan x="1858" dy="16">互逆关系，并能运用这种关系寻求因式分解的</tspan><tspan x="1858" dy="16">方法。</tspan></text></g>
<g id="p4-m2"><rect x="1708" y="3237.5" width="119" height="28" rx="4"/><text x="1715" y="3255.5">(二)、过程与方法：</text></g>
<g id="p4-m2a"><rect x="1851" y="3129" width="262" height="76" rx="4"/><text x="1858" y="3147">(1)由学生自主探索解题途径，在此过程中，<tspan x="1858" dy="16">通过观察、类比等手段，寻求因式分解与因数</tspan><tspan x="1858" dy="16">分解之间的关系，培养学生的观察能力，进一</tspan><tspan x="1858" dy="16">步发展学生的类比思想。</tspan></text></g>
<g id="p4-m2b"><rect x="1851" y="3232" width="262" height="44" rx="4"/><text x="1858" y="3250">(2)由整式乘法的逆运算过渡到因式分解，发<tspan x="1858" dy="16">展学生的逆向思维能力。</tspan></text></g>
<g id="p4-m2c"><rect x="1851" y="3303.4" width="262" height="60" rx="4"/><text x="1858" y="3321.4">(3)通过对分解因式与整式的乘法的观察与比<tspan x="1858" dy="16">较，培养学生的分析问题能力与综合应用能力</tspan><tspan x="1858" dy="16">。</tspan></text></g>
<g id="p4-m3"><rect x="1708" y="3391" width="261.4" height="44" rx="4"/><text x="1715" y="3409">(三)、情感态度与价值观：让学生初步感受对<tspan x="1715" dy="16">立统一的辨证观点以及实事求是的科学态度。</tspan></text></g>
<g id="p4-z"><rect x="1597" y="3495" width="124" height="28" rx="4"/><text x="1604" y="3513">二、教学重点和难点</text></g>
<g id="p4-za"><rect x="1745" y="3462.7" width="224.4" height="28" rx="4"/><text x="1752" y="3480.7">重点：因式分解的概念及提公因式法。</text></g>
<g id="p4-zb"><rect x="1745" y="3519" width="262" height="44" rx="4"/><text x="1752" y="3537">难点：正确找出多项式各项的公因式及分解因<tspan x="1752" dy="16">式与整式乘法的区别和联系。</tspan></text></g>
<g id="p4-g"><rect x="1597" y="4417.5" width="86" height="28" rx="4"/><text x="1604" y="4435.5">三、教学过程</text></g>
<g id="p4-g1"><rect x="1708" y="3589.6" width="74" height="28" rx="4"/><text x="1715" y="3607.6">教学环节：</text></g>
<g id="p4-g1a"><rect x="1806" y="3589.6" width="106" height="28" rx="4"/><text x="1813" y="3607.6">活动1：复习引入</text></g>
<g id="p4-g2"><rect x="1708" y="3700.5" width="185" height="28" rx="4"/><text x="1715" y="3718.5">看谁算得快：用简便方法计算：</text></g>
<g id="p4-g2a"><rect x="1919" y="3645" width="184.6" height="28" rx="4"/><text x="1926" y="3663">(1)7/9 ×13-7/9 ×6+7/9 ×2= ;</text></g>
<g id="p4-g2b"><rect x="1919" y="3700.5" width="212.7" height="28" rx="4"/><text x="1926" y="3718.5">(2)-2.67×132+25×2.67+7×2.67= ;</text></g>
<g id="p4-g2c"><rect x="1919" y="3755" width="88" height="28" rx="4"/><text x="1926" y="3773">(3)992–1= 。</text></g>
<g id="p4-g3"><rect x="1708" y="4051" width="74" height="28" rx="4"/><text x="1715" y="4069">设计意图：</text></g>
<g id="p4-g3a"><rect x="1806" y="3810.6" width="261.4" height="140" rx="4"/><text x="1813" y="3828.6">如果说学生对因式分解还相当陌生的话，相信<tspan x="1813" dy="16">学生对用简便方法进行计算应该相当熟悉.引</tspan><tspan x="1813" dy="16">入这一步的目的旨在让学生通过回顾用简便方</tspan><tspan x="1813" dy="16">法计算——因数分解这一特殊算法，使学生</tspan><tspan x="1813" dy="16">通过类比很自然地过渡到正确理解因式分解的</tspan><tspan x="1813" dy="16">概念上，从而为因式分解的掌握扫清障碍，本</tspan><tspan x="1813" dy="16">环节设计的计算992–1的值是为了降低下一环</tspan><tspan x="1813" dy="16">节的难度，为下一环节的理解搭一个台阶.</tspan></text></g>
<g id="p4-g3b"><rect x="1806" y="3979" width="261.4" height="108" rx="4"/><text x="1813" y="3997">注意事项：学生对于(1)(2)两小题逆向利用乘<tspan x="1813" dy="16">法的分配律进行运算的方法是很熟悉，对于第</tspan><tspan x="1813" dy="16">(3)小题的逆向利用平方差公式的运算则有一</tspan><tspan x="1813" dy="16">定的困难，因此，有必要引导学生复习七年级</tspan><tspan x="1813" dy="16">所学过的整式的乘法运算中的平方差公式，帮</tspan><tspan x="1813" dy="16">助他们顺利地逆向运用平方差公式。</tspan></text></g>
<g id="p4-g3c"><rect x="1806" y="4115" width="106" height="28" rx="4"/><text x="1813" y="4133">活动2：导入课题</text></g>
<g id="p4-g3d"><rect x="1806" y="4170.5" width="102" height="28" rx="4"/><text x="1813" y="4188.5">P165的探究(略);</text></g>
<g id="p4-g3e"><rect x="1806" y="4226" width="261.4" height="44" rx="4"/><text x="1813" y="4244">2. 看谁想得快：993–99能被哪些数整除?你<tspan x="1813" dy="16">是怎么得出来的?</tspan></text></g>
<g id="p4-g4"><rect x="1708" y="4349.4" width="74" height="28" rx="4"/><text x="1715" y="4367.4">设计意图：</text></g>
<g id="p4-g4a"><rect x="1806" y="4297" width="261.4" height="60" rx="4"/><text x="1813" y="4315">引导学生把这个式子分解成几个数的积的形式<tspan x="1813" dy="16">，继续强化学生对因数分解的理解，为学生类</tspan><tspan x="1813" dy="16">比因式分解提供必要的精神准备。</tspan></text></g>
<g id="p4-g4b"><rect x="1806" y="4384.5" width="106" height="28" rx="4"/><text x="1813" y="4402.5">活动3：探究新知</text></g>
<g id="p4-g5"><rect x="1708" y="4440.6" width="86" height="28" rx="4"/><text x="1715" y="4458.6">看谁算得准：</text></g>
<g id="p4-g6"><rect x="1708" y="4606" width="98" height="28" rx="4"/><text x="1715" y="4624">计算下列式子：</text></g>
<g id="p4-g6a"><rect x="1831" y="4495" width="84.6" height="28" rx="4"/><text x="1838" y="4513">(1)3x(x-1)= ;</text></g>
<g id="p4-g6b"><rect x="1831" y="4551" width="91" height="28" rx="4"/><text x="1838" y="4569">(2)(a+b+c)= ;</text></g>
<g id="p4-g6c"><rect x="1831" y="4606" width="89" height="28" rx="4"/><text x="1838" y="4624">(3)(+4)(-4)= ;</text></g>
<g id="p4-g6d"><rect x="1831" y="4661.6" width="71" height="28" rx="4"/><text x="1838" y="4679.6">(4)(-3)2= ;</text></g>
<g id="p4-g6e"><rect x="1831" y="4717" width="109" height="28" rx="4"/><text x="1838" y="4735">(5)a(a+1)(a-1)= ;</text></g>
<g id="p4-g7"><rect x="1708" y="4927.5" width="135" height="28" rx="4"/><text x="1715" y="4945.5">根据上面的算式填空：</text></g>
<g id="p4-g7a"><rect x="1869" y="4772.4" width="82" height="28" rx="4"/><text x="1876" y="4790.4">(1)a+b+c= ;</text></g>
<g id="p4-g7b"><rect x="1869" y="4828" width="83" height="28" rx="4"/><text x="1876" y="4846">(2)3x2-3x= ;</text></g>
<g id="p4-g7c"><rect x="1869" y="4883" width="70" height="28" rx="4"/><text x="1876" y="4901">(3)2-16= ;</text></g>
<g id="p4-g7d"><rect x="1869" y="4938.7" width="69" height="28" rx="4"/><text x="1876" y="4956.7">(4)a3-a= ;</text></g>
<g id="p4-g7e"><rect x="1869" y="5081.8" width="88" height="28" rx="4"/><text x="1876" y="5099.8">(5)2-6+9= 。</text></g>
<g id="p4-g7f"><rect x="1982" y="4994" width="261.4" height="108" rx="4"/><text x="1989" y="5012">在第一组的整式乘法的计算上，学生通过对第<tspan x="1989" dy="16">一组式子的观察得出第二组式子的结果，然后</tspan><tspan x="1989" dy="16">通过对这两组式子的结果的比较，使学生对因</tspan><tspan x="1989" dy="16">式分解有一个初步的意识，由整式乘法的逆运</tspan><tspan x="1989" dy="16">算逐步过渡到因式分解，发展学生的逆向思维</tspan><tspan x="1989" dy="16">能力。</tspan></text></g>
<g id="p4-g7g"><rect x="1982" y="5129.5" width="143" height="28" rx="4"/><text x="1989" y="5147.5">活动4：归纳、得出新知</text></g>
<g id="p4-g8"><rect x="1708" y="5244.5" width="198" height="28" rx="4"/><text x="1715" y="5262.5">比较以下两种运算的联系与区别：</text></g>
<g id="p4-g8a"><rect x="1931.6" y="5185" width="116.4" height="28" rx="4"/><text x="1938.6" y="5203">a(a+1)(a-1)= a3-a</text></g>
<g id="p4-g8b"><rect x="1931.6" y="5240" width="116.4" height="28" rx="4"/><text x="1938.6" y="5258">a3-a= a(a+1)(a-1)</text></g>
<g id="p4-g8c"><rect x="1931.6" y="5295" width="260.4" height="44" rx="4"/><text x="1938.6" y="5313">在第三环节的运算中还有其它类似的例子吗?<tspan x="1938.6" dy="16">除此之外，你还能找到类似的例子吗?</tspan></text></g>
</g>

<!-- 篇6 -->
<g id="p6" class="n">
<g id="p6-a"><rect x="1597" y="5479" width="86" height="28" rx="4"/><text x="1604" y="5497">一、教学目标</text></g>
<g id="p6-a1"><rect x="1708" y="5368" width="261.4" height="44" rx="4"/><text x="1715" y="5386">1.掌握矩形的定义，知道矩形与平行四边形的<tspan x="1715" dy="16">关系.</tspan></text></g>
<g id="p6-a2"><rect x="1708" y="5439.6" width="137" height="28" rx="4"/><text x="1715" y="5457.6">2.掌握矩形的性质定理.</text></g>
<g id="p6-a3"><rect x="1708" y="5494" width="261.4" height="60" rx="4"/><text x="1715" y="5512">3.使学生能应用矩形定义、性质等知识，解决<tspan x="1715" dy="16">简单的证明题和计算题，进一步培养学生的分</tspan><tspan x="1715" dy="16">析能力.</tspan></text></g>
<g id="p6-a4"><rect x="1708" y="5582" width="224.5" height="28" rx="4"/><text x="1715" y="5600">4.通过性质的学习，体会矩形的应用美.</text></g>
<g id="p6-b"><rect x="1597" y="5646" width="86" height="28" rx="4"/><text x="1604" y="5664">二、教法设计</text></g>
<g id="p6-b1"><rect x="1708" y="5637.4" width="261.4" height="44" rx="4"/><text x="1715" y="5655.4">观察、启发、总结、提高，类比探讨，讨论分<tspan x="1715" dy="16">析，启发式.</tspan></text></g>
<g id="p6-c"><rect x="1597" y="5741" width="161" height="28" rx="4"/><text x="1604" y="5759">三、重点、难点及解决办法</text></g>
<g id="p6-c1"><rect x="1783" y="5709" width="199" height="28" rx="4"/><text x="1790" y="5727">1.教学重点：矩形的性质及其推论.</text></g>
<g id="p6-c2"><rect x="1783" y="5764" width="261" height="44" rx="4"/><text x="1790" y="5782">2.教学难点：矩形的本质属性及性质定理的综<tspan x="1790" dy="16">合应用.</tspan></text></g>
<g id="p6-d"><rect x="1597" y="5836" width="86" height="28" rx="4"/><text x="1604" y="5854">四、课时安排</text></g>
<g id="p6-d1"><rect x="1708" y="5836" width="43" height="28" rx="4"/><text x="1715" y="5854">1课时</text></g>
<g id="p6-e"><rect x="1597" y="5899" width="111" height="28" rx="4"/><text x="1604" y="5917">五、教具学具准备</text></g>
<g id="p6-e1"><rect x="1733" y="5891" width="261" height="44" rx="4"/><text x="1740" y="5909">教具(一个活动的平行四边形)，投影仪及胶片<tspan x="1740" dy="16">，常用画图工具</tspan></text></g>
<g id="p6-f"><rect x="1597" y="5962" width="136" height="28" rx="4"/><text x="1604" y="5980">六、师生互动活动设计</text></g>
<g id="p6-f1"><rect x="1758" y="5962" width="248" height="28" rx="4"/><text x="1765" y="5980">教具演示、创设情境，观察猜想，推理论证</text></g>
<g id="p6-g"><rect x="1597" y="6583.4" width="86" height="28" rx="4"/><text x="1604" y="6601.4">七、教学步骤</text></g>
<g id="p6-g1"><rect x="1708" y="6017.6" width="86" height="28" rx="4"/><text x="1715" y="6035.6">【复习提问】</text></g>
<g id="p6-g1a"><rect x="1819" y="6017.6" width="248.4" height="28" rx="4"/><text x="1826" y="6035.6">什么叫平行四边形?它和四边形有什么区别?</text></g>
<g id="p6-g2"><rect x="1708" y="6104.6" width="86" height="28" rx="4"/><text x="1715" y="6122.6">【引入新课】</text></g>
<g id="p6-g2a"><rect x="1819" y="6074" width="261" height="92" rx="4"/><text x="1826" y="6092">我们已经知道平行四边形是特殊的四边形，因<tspan x="1826" dy="16">此平行四边形除具有四边形的性质外，还有它</tspan><tspan x="1826" dy="16">的特殊性质，同样对于平行四边形来说，也有</tspan><tspan x="1826" dy="16">特殊情况即特殊的平行四边形，  堂课我们就</tspan><tspan x="1826" dy="16">来研究一种特殊的平行四边形矩形(写出课题).</tspan></text></g>
<g id="p6-g3"><rect x="1708" y="6443.7" width="86" height="28" rx="4"/><text x="1715" y="6461.7">【讲解新课】</text></g>
<g id="p6-g3a"><rect x="1819" y="6193" width="261" height="108" rx="4"/><text x="1826" y="6211">制一个活动的平行四边形教具，堂上进行演示<tspan x="1826" dy="16">图，使学生注意观察四边形角的变化，当变到</tspan><tspan x="1826" dy="16">一个角是直角时，指出这时平行四边形是矩形</tspan><tspan x="1826" dy="16">，使学生明确矩形是特殊的平行四边形(特殊</tspan><tspan x="1826" dy="16">之处就在于一个角是直角，深刻理解矩形与平</tspan><tspan x="1826" dy="16">行四边形的联系和区别).</tspan></text></g>
<g id="p6-g3b"><rect x="1819" y="6655.4" width="87" height="28" rx="4"/><text x="1826" y="6673.4">矩形的性质：</text></g>
<g id="p6-h1"><rect x="1931" y="6329" width="261" height="76" rx="4"/><text x="1938" y="6347">既然矩形是一种特殊的平行四边形，就应具有<tspan x="1938" dy="16">平行四边形性质，同时矩形又是特殊的平行四</tspan><tspan x="1938" dy="16">边形，比平行四边形多了一个角是直角的条件</tspan><tspan x="1938" dy="16">，因而它就增加了一些特殊性质.</tspan></text></g>
<g id="p6-h2"><rect x="1931" y="6431.7" width="261" height="92" rx="4"/><text x="1938" y="6449.7">继续演示教具，当它变成矩形时，学生容易看<tspan x="1938" dy="16">到它的四个角都是直角;它的对角线也相等(写</tspan><tspan x="1938" dy="16">出这两个结论)，指出观察出来的结论不能做</tspan><tspan x="1938" dy="16">为定理，需要证明.引导学生利用平行四边形</tspan><tspan x="1938" dy="16">角的性质证明得出.</tspan></text></g>
<g id="p6-h3"><rect x="1931" y="6552.4" width="232" height="28" rx="4"/><text x="1938" y="6570.4">矩形性质定理1：矩形的四个角都是直角.</text></g>
<g id="p6-h4"><rect x="1931" y="6608" width="195" height="28" rx="4"/><text x="1938" y="6626">矩形性质定理2：矩形对角线相等.</text></g>
<g id="p6-h5"><rect x="1931" y="6663" width="179" height="28" rx="4"/><text x="1938" y="6681">由矩形性质定理2我们可以得到</text></g>
<g id="p6-h6"><rect x="1931" y="6718.8" width="261" height="44" rx="4"/><text x="1938" y="6736.8">推论：直角三角形斜边上的中线等于斜边的一<tspan x="1938" dy="16">半.</tspan></text></g>
<g id="p6-h7"><rect x="1931" y="6789.4" width="261" height="60" rx="4"/><text x="1938" y="6807.4">(这实际上是  ◦的一个重要性质，即  ◦斜边中<tspan x="1938" dy="16">点到三顶点的距离相等，它在求线段长或线段</tspan><tspan x="1938" dy="16">部分关系时经常用到)</tspan></text></g>
<g id="p6-h8"><rect x="1931" y="6877.6" width="261" height="44" rx="4"/><text x="1938" y="6895.6">例1 已知如图1 矩形  的两条对角线相交于点<tspan x="1938" dy="16">，  ，  ，求矩形对角线的长.(按教材的格式)</tspan></text></g>
<g id="p6-h9"><rect x="1931" y="6948.8" width="261" height="44" rx="4"/><text x="1938" y="6966.8">(强调这种计算题的解题格式，防止学生离开<tspan x="1938" dy="16">几何元素之间的关系，而单纯进行代数计算)</tspan></text></g>
<g id="p6-g4"><rect x="1708" y="7149" width="99" height="28" rx="4"/><text x="1715" y="7167">【总结、扩展】</text></g>
<g id="p6-i1"><rect x="1831" y="7047.6" width="130" height="28" rx="4"/><text x="1838" y="7065.6">1.小结：(用投影打出)</text></g>
<g id="p6-i1a"><rect x="1986" y="7020.8" width="254" height="28" rx="4"/><text x="1993" y="7038.8">(1)矩形、平行四边形、四边形从属关系如图.</text></g>
<g id="p6-i1b"><rect x="1986" y="7075.8" width="80" height="28" rx="4"/><text x="1993" y="7093.8">(2)矩形性质.</text></g>
<g id="p6-i2"><rect x="1831" y="7131.5" width="174.6" height="28" rx="4"/><text x="1838" y="7149.5">1.具有平行四边形的所有性质.</text></g>
<g id="p6-i3"><rect x="1831" y="7186.5" width="249" height="28" rx="4"/><text x="1838" y="7204.5">2.特有性质：四个角都是直角，对角线相等.</text></g>
<g id="p6-i4"><rect x="1831" y="7241.6" width="261" height="44" rx="4"/><text x="1838" y="7259.6">3.思考题：已知如图，  是矩形  对角线交点，<tspan x="1838" dy="16">平分  ，  ，求  的度数</tspan></text></g>
<g id="p6-j"><rect x="1597" y="7314" width="86" height="28" rx="4"/><text x="1604" y="7332">八、布置作业</text></g>
<g id="p6-j1"><rect x="1708" y="7314" width="170" height="28" rx="4"/><text x="1715" y="7332">教材P158中2、5，P195中7.</text></g>
<g id="p6-k"><rect x="1597" y="7369" width="86" height="28" rx="4"/><text x="1604" y="7387">九、板书设计</text></g>
<g id="p6-l"><rect x="1597" y="7424" width="86" height="28" rx="4"/><text x="1604" y="7442">十、随堂练习</text></g>
<g id="p6-l1"><rect x="1708" y="7424" width="145" height="28" rx="4"/><text x="1715" y="7442">教材P146中1、2、3、4</text></g>
</g>
</g>
</svg>
